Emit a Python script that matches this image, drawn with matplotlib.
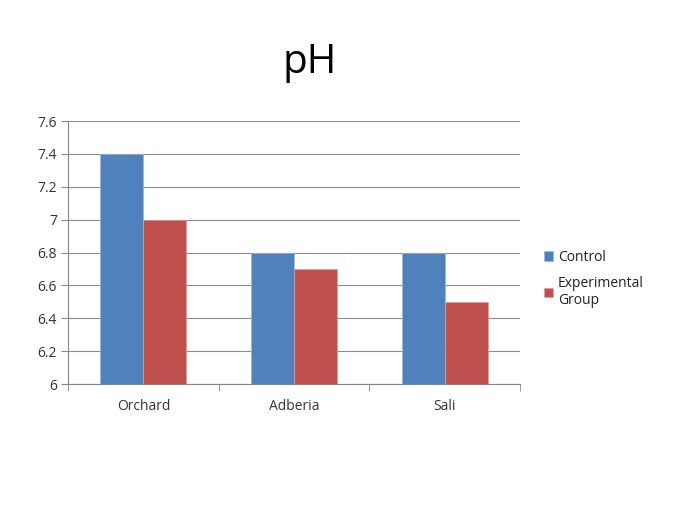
import numpy as np
import matplotlib.pyplot as plt

plt.rcParams['font.family'] = ['Open Sans', 'DejaVu Sans']

categories = ['Orchard', 'Adberia', 'Sali']
control = [7.4, 6.8, 6.8]
experimental = [7.0, 6.7, 6.5]
yticks = [6, 6.2, 6.4, 6.6, 6.8, 7, 7.2, 7.4, 7.6]
ytick_labels = ['6', '6.2', '6.4', '6.6', '6.8', '7', '7.2', '7.4', '7.6']

fig = plt.figure(figsize=(6.84, 5.2), dpi=100)
ax = fig.add_axes([0.0994, 0.2615, 0.661, 0.5058])

x = np.arange(len(categories))
w = 1 / 3.5
ax.bar(x - w / 2, control, w, color='#4F81BD', edgecolor='#9DB7D9', linewidth=0.5,
       label='Control', zorder=3)
ax.bar(x + w / 2, experimental, w, color='#C0504D', edgecolor='#DDA09E', linewidth=0.5,
       label='Experimental\nGroup', zorder=3)

ax.set_ylim(6, 7.6)
ax.set_xlim(-0.5, 2.5)
ax.set_yticks(yticks)
ax.set_yticklabels(ytick_labels)
ax.set_xticks(x)
ax.set_xticklabels(categories)
ax.set_xticks([-0.5, 0.5, 1.5, 2.5], minor=True)
ax.tick_params(axis='x', which='major', length=0, pad=11, labelsize=10, labelcolor='#333333')
ax.tick_params(axis='x', which='minor', length=5, color='#868686', direction='out')
ax.tick_params(axis='y', length=5, color='#868686', direction='out', pad=3, labelsize=10,
               labelcolor='#333333')
ax.grid(axis='y', color='#8c8c8c', linewidth=0.8, zorder=0)
for s in ['top', 'right']:
    ax.spines[s].set_visible(False)
for s in ['left', 'bottom']:
    ax.spines[s].set_color('#868686')
    ax.spines[s].set_linewidth(0.8)

fig.text(0.453, 0.88, 'pH', fontsize=29, ha='center', va='center', color='black')

ax.legend(loc='center left', bbox_to_anchor=(1.04, 0.40), frameon=False, fontsize=10,
          handlelength=0.7, handleheight=0.7, handletextpad=0.3, labelspacing=0.8,
          borderaxespad=0, labelcolor='#222222')

fig.savefig('out.png', dpi=100)
